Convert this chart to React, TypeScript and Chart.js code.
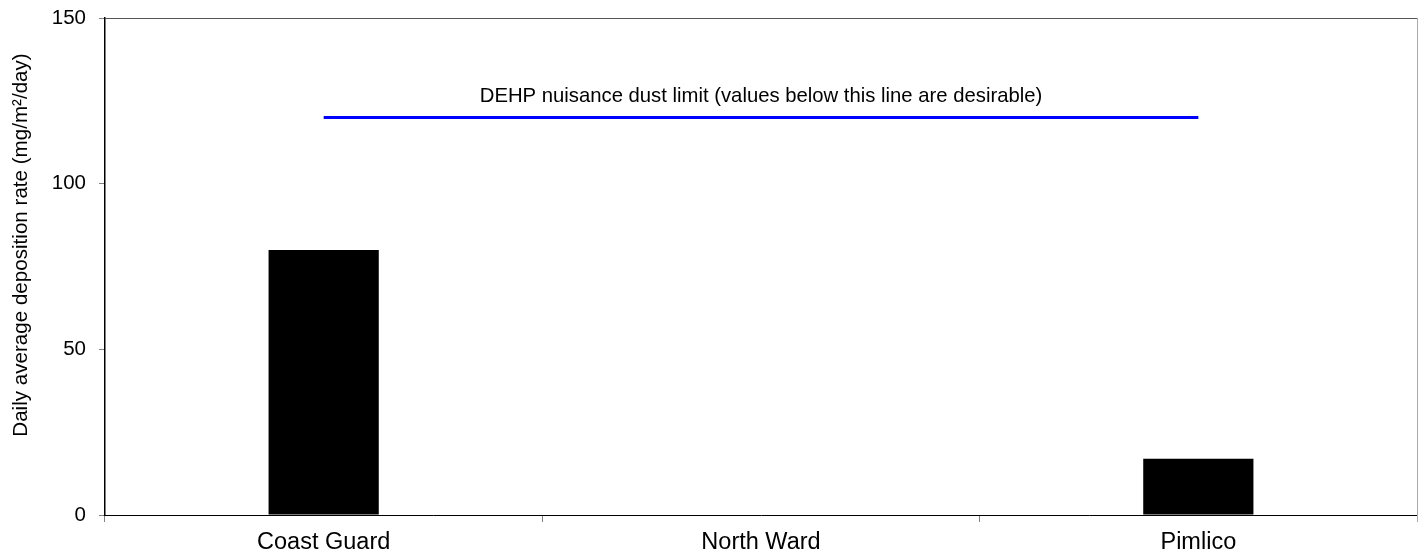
import React, { useEffect, useRef } from "react";
import { Chart, registerables } from "chart.js";

Chart.register(...registerables);

const categories = ["Coast Guard", "North Ward", "Pimlico"];
const depositionValues = [80, 0, 17];
const limitValues = [120, 120, 120];
const limitLabel = "DEHP nuisance dust limit (values below this line are desirable)";
const yTitle = "Daily average deposition rate (mg/m\u00B2/day)";
const yMin = 0;
const yMax = 150;
const yStep = 50;

const FONT = "'Liberation Sans', Arial, sans-serif";

export default function App() {
  const ref = useRef<HTMLCanvasElement | null>(null);

  useEffect(() => {
    const canvas = ref.current;
    if (!canvas) return;

    const overlay = {
      id: "overlay",
      afterDraw(chart: any) {
        const { ctx, chartArea, scales } = chart;
        ctx.save();
        // top and right frame
        ctx.lineWidth = 1;
        ctx.strokeStyle = "#555555";
        ctx.beginPath();
        ctx.moveTo(chartArea.left, chartArea.top + 0.5);
        ctx.lineTo(chartArea.right, chartArea.top + 0.5);
        ctx.stroke();
        ctx.strokeStyle = "#aaaaaa";
        ctx.beginPath();
        ctx.moveTo(chartArea.right + 0.5, chartArea.top);
        ctx.lineTo(chartArea.right + 0.5, chartArea.bottom + 7);
        ctx.stroke();
        // limit label
        ctx.fillStyle = "#000000";
        ctx.font = `20.3px ${FONT}`;
        ctx.textAlign = "center";
        ctx.textBaseline = "middle";
        const lx = scales.x.getPixelForValue(1);
        const ly = scales.y.getPixelForValue(limitValues[1]) - 21;
        ctx.fillText(limitLabel, lx, ly);
        // y title
        ctx.font = `20.6px ${FONT}`;
        ctx.translate(21, 245);
        ctx.rotate(-Math.PI / 2);
        ctx.fillText(yTitle, 0, 0);
        ctx.restore();
      },
    };

    const chart = new Chart(canvas, {
      type: "bar",
      data: {
        labels: categories,
        datasets: [
          {
            type: "line",
            data: limitValues,
            borderColor: "#0000ff",
            borderWidth: 3,
            pointRadius: 0,
            fill: false,
            order: 0,
          } as any,
          {
            type: "bar",
            data: depositionValues,
            backgroundColor: "#000000",
            borderWidth: 0,
            barPercentage: 1,
            categoryPercentage: 0.252,
            order: 1,
          },
        ],
      },
      options: {
        responsive: false,
        animation: false,
        layout: { padding: { top: 18, right: 7, left: 0, bottom: 0 } },
        plugins: {
          legend: { display: false },
          tooltip: { enabled: false },
        },
        scales: {
          x: {
            grid: {
              offset: true,
              drawOnChartArea: false,
              drawTicks: true,
              tickLength: 7,
              tickColor: "#808080",
            },
            border: { color: "#000000", width: 1 },
            ticks: {
              color: "#000000",
              font: { family: FONT, size: 23.5 },
              padding: 6,
              maxRotation: 0,
            },
            afterFit(scale: any) {
              scale.height = 42;
              scale.paddingLeft = 0;
              scale.paddingRight = 0;
            },
          },
          y: {
            min: yMin,
            max: yMax,
            grid: {
              drawOnChartArea: false,
              drawTicks: true,
              tickLength: 6,
              tickColor: "#808080",
            },
            border: { color: "#000000", width: 1.5 },
            ticks: {
              stepSize: yStep,
              color: "#000000",
              font: { family: FONT, size: 20.5 },
              padding: 13,
            },
            afterFit(scale: any) {
              scale.width = 105;
              scale.paddingTop = 0;
              scale.paddingBottom = 0;
            },
          },
        },
      },
      plugins: [overlay],
    });

    return () => chart.destroy();
  }, []);

  return (
    <div style={{ position: "absolute", left: 0, top: 0, width: 1424, height: 557, background: "#ffffff" }}>
      <canvas ref={ref} width={1424} height={557} />
    </div>
  );
}
